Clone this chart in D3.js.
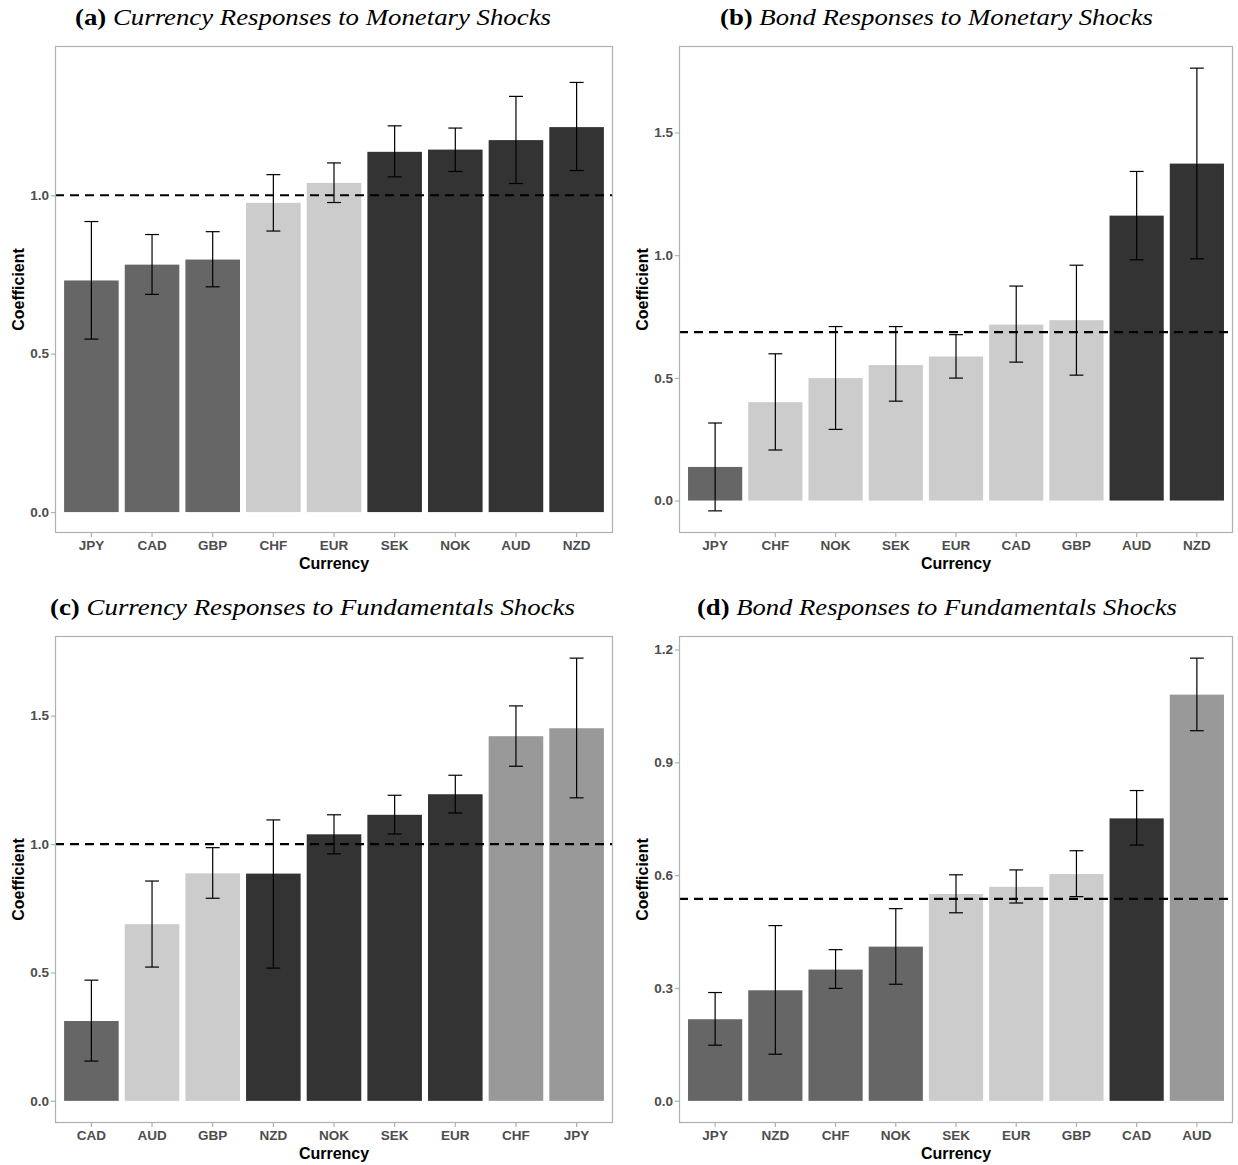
<!DOCTYPE html>
<html>
<head>
<meta charset="utf-8">
<script src="https://cdn.jsdelivr.net/npm/d3@7"></script>
<style>
  html, body { margin: 0; padding: 0; background: #ffffff; }
  svg { display: block; }
</style>
</head>
<body>
<svg id="chart" width="1238" height="1165"></svg>
<script>
// ---------------- DATA ----------------
// Panel (a): Currency responses to monetary shocks
const catsA = ["JPY","CAD","GBP","CHF","EUR","SEK","NOK","AUD","NZD"];
const valA  = [0.731,0.781,0.797,0.976,1.039,1.137,1.144,1.174,1.215];
const loA   = [0.546,0.687,0.711,0.887,0.977,1.058,1.075,1.037,1.078];
const hiA   = [0.917,0.876,0.885,1.065,1.102,1.219,1.212,1.312,1.356];
const grpA  = ["mid","mid","mid","light","light","dark","dark","dark","dark"];
const refA  = 1.0;
const ticksA = [0, 0.5, 1.0];

// Panel (b): Bond responses to monetary shocks
const catsB = ["JPY","CHF","NOK","SEK","EUR","CAD","GBP","AUD","NZD"];
const valB  = [0.137,0.401,0.499,0.552,0.587,0.717,0.735,1.161,1.373];
const loB   = [-0.042,0.206,0.290,0.405,0.499,0.564,0.511,0.981,0.985];
const hiB   = [0.316,0.598,0.709,0.709,0.676,0.874,0.959,1.341,1.762];
const grpB  = ["mid","light","light","light","light","light","light","dark","dark"];
const refB  = 0.686;
const ticksB = [0, 0.5, 1.0, 1.5];

// Panel (c): Currency responses to fundamentals shocks
const catsC = ["CAD","AUD","GBP","NZD","NOK","SEK","EUR","CHF","JPY"];
const valC  = [0.311,0.688,0.886,0.885,1.038,1.114,1.194,1.420,1.451];
const loC   = [0.155,0.521,0.789,0.517,0.962,1.039,1.121,1.303,1.180];
const hiC   = [0.470,0.856,0.986,1.094,1.114,1.190,1.268,1.538,1.724];
const grpC  = ["mid","light","light","dark","dark","dark","dark","gray","gray"];
const refC  = 1.0;
const ticksC = [0, 0.5, 1.0, 1.5];

// Panel (d): Bond responses to fundamentals shocks
const catsD = ["JPY","NZD","CHF","NOK","SEK","EUR","GBP","CAD","AUD"];
const valD  = [0.217,0.294,0.349,0.410,0.550,0.569,0.603,0.751,1.080];
const loD   = [0.148,0.124,0.299,0.310,0.500,0.526,0.543,0.680,0.984];
const hiD   = [0.288,0.466,0.402,0.511,0.601,0.614,0.665,0.825,1.177];
const grpD  = ["mid","mid","mid","mid","light","light","light","dark","gray"];
const refD  = 0.537;
const ticksD = [0, 0.3, 0.6, 0.9, 1.2];

const titleTags  = ["(a)","(b)","(c)","(d)"];
const titleTexts = ["Currency Responses to Monetary Shocks",
                    "Bond Responses to Monetary Shocks",
                    "Currency Responses to Fundamentals Shocks",
                    "Bond Responses to Fundamentals Shocks"];

// ---------------- STYLE / LAYOUT ----------------
const fillColor = {dark:"#333333", mid:"#666666", light:"#cccccc", gray:"#999999"};
const panels = [
  {cats:catsA, val:valA, lo:loA, hi:hiA, grp:grpA, ref:refA, ticks:ticksA,
   box:{x0:55, x1:613, y0:46, y1:533}, domain:[-0.066, 1.471],
   title:{x0:75, x1:551, y:25}},
  {cats:catsB, val:valB, lo:loB, hi:hiB, grp:grpB, ref:refB, ticks:ticksB,
   box:{x0:679, x1:1233, y0:46, y1:533}, domain:null,
   title:{x0:720, x1:1153, y:25}},
  {cats:catsC, val:valC, lo:loC, hi:hiC, grp:grpC, ref:refC, ticks:ticksC,
   box:{x0:55, x1:613, y0:636, y1:1123}, domain:null,
   title:{x0:50, x1:575, y:615}},
  {cats:catsD, val:valD, lo:loD, hi:hiD, grp:grpD, ref:refD, ticks:ticksD,
   box:{x0:679, x1:1233, y0:636, y1:1123}, domain:null,
   title:{x0:697, x1:1177, y:615}}
];

const svg = d3.select("#chart");
const axisGray = "#b0b0b0";
const tickTextColor = "#4d4d4d";
const sans = "'Liberation Sans', Arial, Helvetica, sans-serif";
const serif = "'Liberation Serif', 'Times New Roman', serif";

panels.forEach((p, i) => {
  const b = p.box;
  const data = p.cats.map((c, k) => ({cat:c, v:p.val[k], lo:p.lo[k], hi:p.hi[k], g:p.grp[k]}));

  // ggplot-like continuous expansion (5%) unless explicit domain
  let dom = p.domain;
  if (!dom) {
    const mn = Math.min(0, d3.min(p.lo)), mx = Math.max(0, d3.max(p.hi));
    const e = (mx - mn) * 0.05;
    dom = [mn - e, mx + e];
  }
  const y = d3.scaleLinear().domain(dom).range([b.y1, b.y0]);
  const x = d3.scaleBand().domain(p.cats).range([b.x0, b.x1])
              .paddingInner(0.1).paddingOuter(0.15);

  const g = svg.append("g");

  // bars
  g.selectAll("rect.bar").data(data).enter().append("rect")
    .attr("class","bar")
    .attr("x", d => x(d.cat))
    .attr("width", x.bandwidth())
    .attr("y", d => y(Math.max(0, d.v)))
    .attr("height", d => Math.abs(y(d.v) - y(0)))
    .attr("fill", d => fillColor[d.g]);

  // reference dashed line
  g.append("line")
    .attr("x1", b.x0).attr("x2", b.x1)
    .attr("y1", y(p.ref)).attr("y2", y(p.ref))
    .attr("stroke", "#000").attr("stroke-width", 2.2)
    .attr("stroke-dasharray", "9,6");

  // error bars
  const capW = x.step() * 0.23;
  const eb = g.selectAll("g.eb").data(data).enter().append("g").attr("class","eb");
  eb.append("line")
    .attr("x1", d => x(d.cat) + x.bandwidth()/2).attr("x2", d => x(d.cat) + x.bandwidth()/2)
    .attr("y1", d => y(d.lo)).attr("y2", d => y(d.hi))
    .attr("stroke", "#000").attr("stroke-width", 1.2);
  eb.append("line")
    .attr("x1", d => x(d.cat) + x.bandwidth()/2 - capW/2).attr("x2", d => x(d.cat) + x.bandwidth()/2 + capW/2)
    .attr("y1", d => y(d.lo)).attr("y2", d => y(d.lo))
    .attr("stroke", "#000").attr("stroke-width", 1.2);
  eb.append("line")
    .attr("x1", d => x(d.cat) + x.bandwidth()/2 - capW/2).attr("x2", d => x(d.cat) + x.bandwidth()/2 + capW/2)
    .attr("y1", d => y(d.hi)).attr("y2", d => y(d.hi))
    .attr("stroke", "#000").attr("stroke-width", 1.2);

  // panel border
  g.append("rect")
    .attr("x", b.x0 + 0.5).attr("y", b.y0 + 0.5)
    .attr("width", b.x1 - b.x0 - 1).attr("height", b.y1 - b.y0 - 1)
    .attr("fill", "none").attr("stroke", axisGray).attr("stroke-width", 1.2);

  // y axis
  const ya = g.append("g").attr("transform", `translate(${b.x0},0)`)
    .call(d3.axisLeft(y).tickValues(p.ticks).tickFormat(d3.format(".1f")).tickSize(4).tickPadding(2));
  ya.select(".domain").remove();
  ya.selectAll(".tick line").attr("stroke", axisGray).attr("stroke-width", 1.2);
  ya.selectAll(".tick text").attr("fill", tickTextColor)
    .style("font-family", sans).style("font-size", "13.5px").style("font-weight", "bold");

  // x axis
  const xa = g.append("g").attr("transform", `translate(0,${b.y1})`)
    .call(d3.axisBottom(x).tickSize(4).tickPadding(3));
  xa.select(".domain").remove();
  xa.selectAll(".tick line").attr("stroke", axisGray).attr("stroke-width", 1.2);
  xa.selectAll(".tick text").attr("fill", tickTextColor)
    .style("font-family", sans).style("font-size", "13.5px").style("font-weight", "bold");

  // axis titles
  g.append("text")
    .attr("x", (b.x0 + b.x1) / 2).attr("y", b.y1 + 36)
    .attr("text-anchor", "middle")
    .style("font-family", sans).style("font-size", "16px").style("font-weight", "bold")
    .attr("fill", "#000").text("Currency");
  g.append("text")
    .attr("transform", `translate(${b.x0 - 31},${(b.y0 + b.y1) / 2}) rotate(-90)`)
    .attr("text-anchor", "middle")
    .style("font-family", sans).style("font-size", "16px").style("font-weight", "bold")
    .attr("fill", "#000").text("Coefficient");

  // panel title
  const t = svg.append("text")
    .attr("x", p.title.x0).attr("y", p.title.y)
    .style("font-family", serif).style("font-size", "23px").attr("fill", "#000")
    .attr("textLength", p.title.x1 - p.title.x0).attr("lengthAdjust", "spacingAndGlyphs");
  t.append("tspan").style("font-weight", "bold").text(titleTags[i] + " ");
  t.append("tspan").style("font-style", "italic").text(titleTexts[i]);
});
</script>
</body>
</html>
